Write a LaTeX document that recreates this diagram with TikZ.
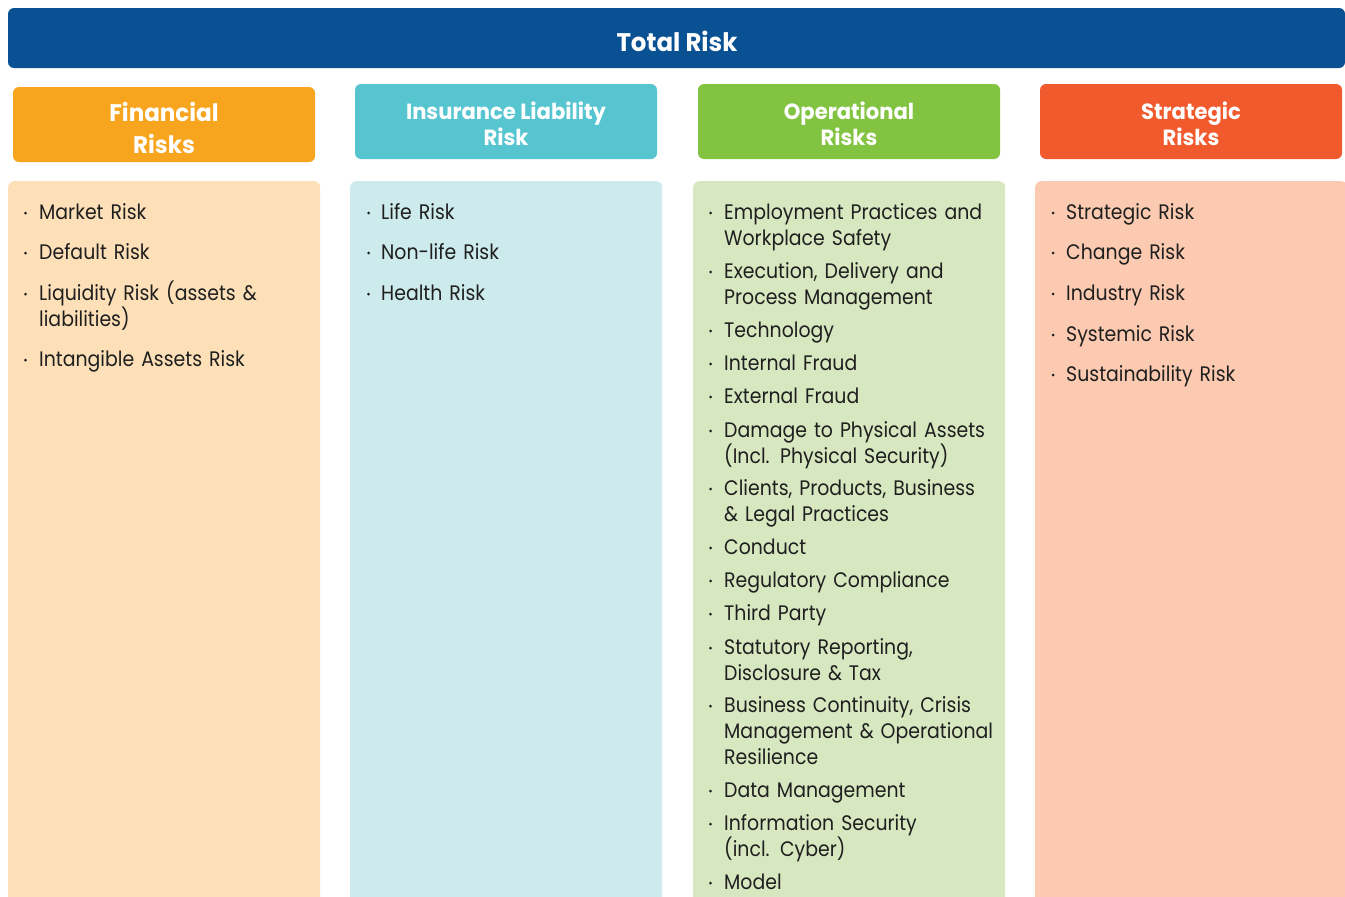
\documentclass[tikz,border=0pt]{standalone}
\usepackage{fontspec}
\setmainfont{Poppins}[FakeStretch=0.9]
\newfontfamily\headfont{Poppins}[FakeStretch=0.96]
\usetikzlibrary{calc}

\definecolor{totalblue}{HTML}{0A5194}
\definecolor{finhead}{HTML}{F7A51E}
\definecolor{inshead}{HTML}{57C5D0}
\definecolor{ophead}{HTML}{82C341}
\definecolor{strathead}{HTML}{F15A2D}
\definecolor{finbg}{HTML}{FDE0B7}
\definecolor{insbg}{HTML}{CDEBEC}
\definecolor{opbg}{HTML}{D7E8C1}
\definecolor{stratbg}{HTML}{FBCAB0}
\definecolor{ink}{HTML}{1F1F1F}

\begin{document}
\begin{tikzpicture}[x=1pt,y=-1pt,
	box/.style={rounded corners=6pt,inner sep=0pt},
	colhead/.style={box,minimum width=302pt,minimum height=75pt},
	title/.style={text=white,align=center,inner sep=0pt,
		font=\headfont\bfseries\fontsize{22}{26}\selectfont},
	body/.style={box,anchor=north west,minimum width=312pt,minimum height=740pt},
	item/.style={anchor=base west,text width=290pt,align=left,inner sep=0pt,
		text=ink,font=\fontsize{21}{26}\selectfont},
	dot/.style={fill=ink}]
	\useasboundingbox (0,0) rectangle (1345,897);

	% top bar
	\node[box,fill=totalblue,minimum width=1337pt,minimum height=60pt] (total) at (676.5,38) {};
	\node[title,font=\headfont\bfseries\fontsize{25.5}{28}\selectfont] (total-title) at (677,41) {Total Risk};

	% column headers
	\node[colhead,fill=finhead] (fin) at (164,124.5) {};
	\node[colhead,fill=inshead] (ins) at (506,121.5) {};
	\node[colhead,fill=ophead] (op) at (849,121.5) {};
	\node[colhead,fill=strathead] (strat) at (1191,121.5) {};
	\node[title,font=\headfont\bfseries\fontsize{24}{32}\selectfont] (fin-title) at (164,128) {Financial\\Risks};
	\node[title] (ins-title) at (506,124) {Insurance Liability\\Risk};
	\node[title] (op-title) at (849,124) {Operational\\Risks};
	\node[title] (strat-title) at (1191,124) {Strategic\\Risks};

	% column bodies
	\node[body,fill=finbg] (fin-body) at (8,181) {};
	\node[body,fill=insbg] (ins-body) at (350,181) {};
	\node[body,fill=opbg] (op-body) at (693,181) {};
	\node[body,fill=stratbg] (strat-body) at (1035,181) {};

	% financial
	\foreach \y/\t [count=\n] in {211/Market Risk, 251/Default Risk,
		292/{Liquidity Risk (assets \&\\liabilities)}, 358/Intangible Assets Risk}
	{
		\node[item] (fin-\n) at (39,\y+8) {\t};
		\fill[dot] ([xshift=-13.5pt,yshift=6pt]fin-\n.base west) circle (1.5pt);
	}

	% insurance
	\foreach \y/\t [count=\n] in {211/Life Risk, 251/Non-life Risk, 292/Health Risk}
	{
		\node[item] (ins-\n) at (381,\y+8) {\t};
		\fill[dot] ([xshift=-12.5pt,yshift=6pt]ins-\n.base west) circle (1.5pt);
	}

	% operational
	\foreach \y/\t [count=\n] in {211/{Employment Practices and\\Workplace Safety},
		270/{Execution, Delivery and\\Process Management}, 329/Technology,
		362/Internal Fraud, 395/External Fraud,
		429/{Damage to Physical Assets\\(Incl. Physical Security)},
		487/{Clients, Products, Business\\\& Legal Practices}, 546/Conduct,
		579/Regulatory Compliance, 612/Third Party,
		646/{Statutory Reporting,\\Disclosure \& Tax},
		704/{Business Continuity, Crisis\\Management \& Operational\\Resilience},
		789/Data Management, 822/{Information Security\\(incl. Cyber)}, 881/Model}
	{
		\node[item] (op-\n) at (724,\y+8) {\t};
		\fill[dot] ([xshift=-13.5pt,yshift=6pt]op-\n.base west) circle (1.5pt);
	}

	% strategic
	\foreach \y/\t [count=\n] in {211/Strategic Risk, 251/Change Risk, 292/Industry Risk,
		333/Systemic Risk, 373/Sustainability Risk}
	{
		\node[item] (strat-\n) at (1066,\y+8) {\t};
		\fill[dot] ([xshift=-13pt,yshift=6pt]strat-\n.base west) circle (1.5pt);
	}
\end{tikzpicture}
\end{document}
